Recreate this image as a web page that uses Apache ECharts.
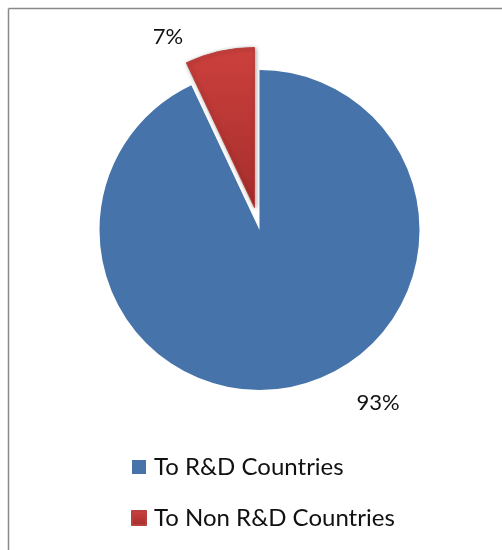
<!DOCTYPE html>
<html><head><meta charset="utf-8">
<script src="https://cdn.jsdelivr.net/npm/echarts@6/dist/echarts.min.js"></script>
<style>html,body{margin:0;padding:0;background:#fff}#c{width:502px;height:550px}</style>
</head><body><div id="c"></div>
<script>
const categories = ["To R&D Countries", "To Non R&D Countries"];
const values = [93, 7];
const labelText = ["93%", "7%"];

const chart = echarts.init(document.getElementById('c'));
const font = "Lato, 'Open Sans', sans-serif";
chart.setOption({
  animation: false,
  backgroundColor: '#fff',
  legend: {
    orient: 'vertical', left: 126, top: 450, itemWidth: 14, itemHeight: 14, itemGap: 27,
    icon: 'rect',
    textStyle: { fontSize: 24, lineHeight: 24, fontFamily: font, color: '#111', padding: [0,0,0,3] },
    data: categories
  },
  graphic: [
    { type: 'line', shape: { x1: 8.5, y1: 8.5, x2: 502, y2: 8.5 }, style: { stroke: '#8a8a8a', lineWidth: 1.5 } },
    { type: 'line', shape: { x1: 8.5, y1: 8.5, x2: 8.5, y2: 550 }, style: { stroke: '#8a8a8a', lineWidth: 1.5 } }
  ],
  series: [{
    type: 'pie',
    center: [259.5, 230],
    radius: [0, 160],
    startAngle: 90,
    selectedMode: 'multiple',
    selectedOffset: 23,
    data: categories.map((c, i) => ({
      name: c, value: values[i], selected: i === 1,
      itemStyle: i === 0 ? { color: '#4673A9' } : {
        color: new echarts.graphic.LinearGradient(0, 0, 0, 1, [
          { offset: 0, color: '#CC403D' }, { offset: 1, color: '#A52E2C' }
        ]),
        borderColor: '#B8403D', borderWidth: 1,
        shadowColor: 'rgba(0,0,0,0.35)', shadowBlur: 4, shadowOffsetX: 1, shadowOffsetY: 1
      },
      label: { formatter: labelText[i] }
    })),
    label: { show: true, position: 'outside', fontSize: 22, fontFamily: font, color: '#111' },
    labelLine: { show: false },
    labelLayout: function (p) {
      if (p.dataIndex === 0) return { x: 378, y: 403, align: 'center', verticalAlign: 'middle' };
      return { x: 168, y: 37, align: 'center', verticalAlign: 'middle', moveOverlap: null };
    },
    emphasis: { disabled: true }
  }]
});
// shift the second label after layout if needed
const lbl = chart.getModel().getSeriesByIndex(0).getData().getItemGraphicEl(1).getTextContent();
lbl.attr({ style: { align: 'center' } });
lbl.x = 168; lbl.y = 37; lbl.markRedraw();
</script></body></html>
